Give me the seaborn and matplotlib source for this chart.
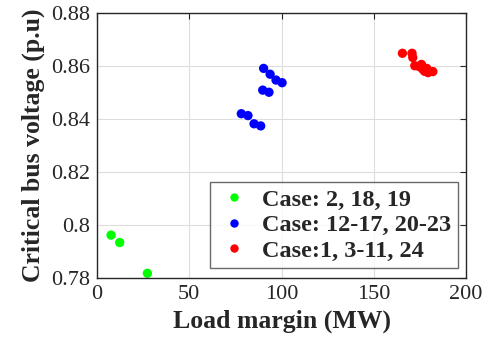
import matplotlib
matplotlib.use("Agg")
import matplotlib.pyplot as plt
import seaborn as sns
import pandas as pd

green_x = [7.6, 12.3, 27.3]
green_y = [0.7962, 0.7934, 0.7818]
blue_x = [90.3, 93.8, 97.0, 100.3, 89.8, 93.2, 78.2, 81.8, 85.1, 88.7]
blue_y = [0.8591, 0.8569, 0.8547, 0.8537, 0.8509, 0.8501, 0.8420, 0.8413, 0.8382, 0.8374]
red_x = [165.5, 170.7, 171.1, 172.2, 174.5, 175.8, 176.5, 178.7, 177.5, 179.4, 182.0]
red_y = [0.8648, 0.8648, 0.8632, 0.8601, 0.8598, 0.8606, 0.8588, 0.8591, 0.8580, 0.8575, 0.8579]
labels = ["Case: 2, 18, 19", "Case: 12-17, 20-23", "Case:1, 3-11, 24"]
colors = ["#00ff00", "#0000ff", "#ff0000"]

df = pd.DataFrame({
    "x": green_x + blue_x + red_x,
    "y": green_y + blue_y + red_y,
    "case": [labels[0]] * len(green_x) + [labels[1]] * len(blue_x) + [labels[2]] * len(red_x),
})

sns.set_style("white")
plt.rcParams["font.family"] = ["Liberation Serif", "DejaVu Serif"]

fig = plt.figure(figsize=(4.84, 3.42), dpi=100)
ax = fig.add_axes([0.2004, 0.187, 0.7626, 0.775])
sns.scatterplot(data=df, x="x", y="y", hue="case", palette=colors, hue_order=labels,
                s=45, edgecolor="none", ax=ax, legend=True)

ax.set_xlim(0, 200)
ax.set_ylim(0.78, 0.88)
ax.set_xticks([0, 50, 100, 150, 200])
ax.set_yticks([0.78, 0.8, 0.82, 0.84, 0.86, 0.88])
ax.set_yticklabels(["0.78", "0.8", "0.82", "0.84", "0.86", "0.88"])
ax.grid(True, color="#dddddd", linewidth=0.8)
ax.set_axisbelow(True)
for sp in ax.spines.values():
    sp.set_color("#262626")
    sp.set_linewidth(1.0)
ax.tick_params(direction="in", top=True, right=True, length=4, labelsize=16,
               colors="#262626", labelcolor="#262626", pad=5)
ax.set_xlabel("Load margin (MW)", fontsize=18.5, fontweight="bold", color="#262626", labelpad=4)
ax.set_ylabel("Critical bus voltage (p.u)", fontsize=18.5, fontweight="bold", color="#262626", labelpad=4)

leg = ax.legend(loc="lower right", bbox_to_anchor=(0.99, 0.02), frameon=True, fancybox=False,
                prop={"weight": "bold", "size": 17.5}, handletextpad=0.4, borderpad=0.25,
                labelspacing=0.15, markerscale=0.9, handlelength=1.5, borderaxespad=0.2)
leg.get_frame().set_edgecolor("#444444")
leg.get_frame().set_linewidth(1.0)

fig.savefig("out.png", dpi=100)
